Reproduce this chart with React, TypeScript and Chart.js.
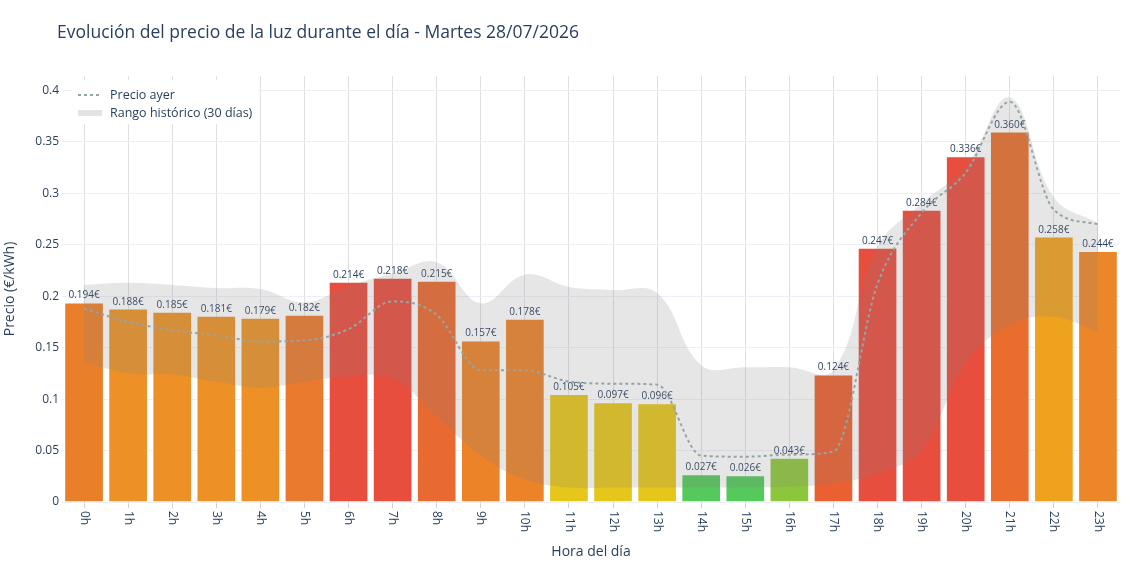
import React, { useEffect, useRef } from "react";
import { Chart, registerables } from "chart.js";

Chart.register(...registerables);

const FONT = "'Open Sans', verdana, arial, sans-serif";
const TEXT = "#2a3f5f";

const horas = [
  "0h", "1h", "2h", "3h", "4h", "5h", "6h", "7h", "8h", "9h", "10h", "11h",
  "12h", "13h", "14h", "15h", "16h", "17h", "18h", "19h", "20h", "21h", "22h", "23h",
];

// Precio de hoy (€/kWh)
const precioHoy = [
  0.194, 0.188, 0.185, 0.181, 0.179, 0.182, 0.214, 0.218, 0.215, 0.157, 0.178, 0.105,
  0.097, 0.096, 0.027, 0.026, 0.043, 0.124, 0.247, 0.284, 0.336, 0.36, 0.258, 0.244,
];

// Precio del día anterior (€/kWh)
const precioAyer = [
  0.188, 0.175, 0.167, 0.162, 0.156, 0.157, 0.168, 0.195, 0.182, 0.128, 0.128, 0.117,
  0.115, 0.114, 0.045, 0.044, 0.046, 0.049, 0.212, 0.281, 0.32, 0.389, 0.284, 0.27,
];

// Rango histórico de los últimos 30 días
const rangoMax = [
  0.211, 0.213, 0.211, 0.208, 0.207, 0.194, 0.21, 0.222, 0.233, 0.193, 0.221, 0.209,
  0.206, 0.203, 0.133, 0.131, 0.131, 0.128, 0.248, 0.29, 0.326, 0.393, 0.296, 0.271,
];
const rangoMin = [
  0.136, 0.125, 0.124, 0.117, 0.111, 0.117, 0.122, 0.12, 0.083, 0.045, 0.022, 0.014,
  0.014, 0.014, 0.014, 0.014, 0.015, 0.018, 0.028, 0.05, 0.135, 0.172, 0.18, 0.165,
];

// Color de cada barra según el nivel de precio
const coloresBarra = [
  "#ea7f2a", "#ed9126", "#ed9126", "#ed9126", "#ed9126", "#ea7a2d", "#e84e3e", "#e84e3e",
  "#e96a30", "#ec8328", "#ec8328", "#e5c61a", "#e5c61a", "#e5c61a", "#55c95a", "#55c95a",
  "#8cc63c", "#ea6030", "#e84e3e", "#e84e3e", "#e84e3e", "#e96e2e", "#efa21e", "#eb8629",
];

const TITULO = "Evolución del precio de la luz durante el día - Martes 28/07/2026";
const TITULO_X = "Hora del día";
const TITULO_Y = "Precio (€/kWh)";
const LEYENDA_AYER = "Precio ayer";
const LEYENDA_RANGO = "Rango histórico (30 días)";

const BAND_FILL = "rgba(128,128,128,0.2)";
const LINE_COLOR = "#95a5a6";

const decoraciones = {
  id: "decoraciones",
  afterDatasetDraw(chart: any, args: any) {
    if (args.meta.type !== "bar") return;
    const ctx = chart.ctx;
    ctx.save();
    ctx.font = `10px ${FONT}`;
    ctx.fillStyle = TEXT;
    ctx.textAlign = "center";
    ctx.textBaseline = "alphabetic";
    args.meta.data.forEach((el: any, i: number) => {
      ctx.fillText(precioHoy[i].toFixed(3) + "€", el.x, el.y - 4);
    });
    ctx.restore();
  },
  afterDraw(chart: any) {
    const ctx = chart.ctx;
    const area = chart.chartArea;
    const xScale = chart.scales.x;
    ctx.save();

    // Título
    ctx.fillStyle = TEXT;
    ctx.font = `17.5px ${FONT}`;
    ctx.textAlign = "left";
    ctx.textBaseline = "middle";
    ctx.fillText(TITULO, 57, 33);

    // Etiquetas del eje X, giradas 90° en sentido horario
    ctx.font = `12px ${FONT}`;
    horas.forEach((h, i) => {
      const x = xScale.getPixelForTick(i);
      ctx.save();
      ctx.translate(x, area.bottom + 9);
      ctx.rotate(Math.PI / 2);
      ctx.textAlign = "left";
      ctx.textBaseline = "middle";
      ctx.fillText(h, 0, 0);
      ctx.restore();
    });

    // Títulos de los ejes
    ctx.font = `14px ${FONT}`;
    ctx.textAlign = "center";
    ctx.textBaseline = "middle";
    ctx.fillText(TITULO_X, (area.left + area.right) / 2, 552);
    ctx.save();
    ctx.translate(10, (area.top + area.bottom) / 2);
    ctx.rotate(-Math.PI / 2);
    ctx.fillText(TITULO_Y, 0, 0);
    ctx.restore();

    // Leyenda dentro del área del gráfico
    const lx = area.left + 10;
    const ly = area.top + 4;
    ctx.fillStyle = "#ffffff";
    ctx.fillRect(lx, ly, 186, 44);

    ctx.strokeStyle = LINE_COLOR;
    ctx.lineWidth = 2;
    ctx.setLineDash([3, 3]);
    ctx.beginPath();
    ctx.moveTo(lx + 6, ly + 15);
    ctx.lineTo(lx + 30, ly + 15);
    ctx.stroke();
    ctx.setLineDash([]);

    ctx.fillStyle = "#e3e3e3";
    ctx.fillRect(lx + 6, ly + 30, 24, 6);

    ctx.fillStyle = TEXT;
    ctx.font = `12.5px ${FONT}`;
    ctx.textAlign = "left";
    ctx.textBaseline = "middle";
    ctx.fillText(LEYENDA_AYER, lx + 38, ly + 15);
    ctx.fillText(LEYENDA_RANGO, lx + 38, ly + 33);

    ctx.restore();
  },
};

export default function App() {
  const canvasRef = useRef<HTMLCanvasElement | null>(null);

  useEffect(() => {
    if (!canvasRef.current) return;
    const chart = new Chart(canvasRef.current, {
      type: "bar",
      data: {
        labels: horas,
        datasets: [
          {
            type: "line",
            label: LEYENDA_AYER,
            data: precioAyer,
            borderColor: LINE_COLOR,
            borderWidth: 2,
            borderDash: [3, 3],
            pointRadius: 0,
            cubicInterpolationMode: "monotone",
            fill: false,
            order: 0,
          } as any,
          {
            type: "line",
            label: "min",
            data: rangoMin,
            borderWidth: 0,
            borderColor: "rgba(0,0,0,0)",
            pointRadius: 0,
            tension: 0.4,
            fill: false,
            order: 1,
          } as any,
          {
            type: "line",
            label: LEYENDA_RANGO,
            data: rangoMax,
            borderWidth: 0,
            borderColor: "rgba(0,0,0,0)",
            backgroundColor: BAND_FILL,
            pointRadius: 0,
            tension: 0.4,
            fill: "-1",
            order: 1,
          } as any,
          {
            type: "bar",
            label: "Precio hoy",
            data: precioHoy,
            backgroundColor: coloresBarra,
            borderColor: "rgba(255,255,255,0.5)",
            borderWidth: 1,
            barPercentage: 0.9,
            categoryPercentage: 1,
            order: 2,
          } as any,
        ],
      },
      options: {
        responsive: true,
        maintainAspectRatio: false,
        animation: false,
        layout: { padding: { left: 0, right: 20, top: 76, bottom: 0 } },
        plugins: {
          legend: { display: false },
          title: { display: false },
          tooltip: { enabled: false },
        },
        scales: {
          x: {
            offset: true,
            grid: {
              offset: false,
              color: "#e1e1e4",
              drawTicks: true,
              tickLength: 6,
              tickColor: "#cfcfd4",
            },
            border: { display: false },
            ticks: { display: false },
            afterFit: (scale: any) => {
              scale.height = 68;
            },
          },
          y: {
            min: 0,
            max: 0.414,
            grid: { color: "#ebf0f8", drawTicks: false, lineWidth: 1 },
            border: { display: false },
            ticks: {
              stepSize: 0.05,
              includeBounds: false,
              padding: 3,
              color: TEXT,
              font: { family: FONT, size: 12 },
              callback: (v: any) => String(Number(Number(v).toFixed(2))),
            },
            afterFit: (scale: any) => {
              scale.width = 62;
            },
          },
        },
      },
      plugins: [decoraciones],
    });
    return () => chart.destroy();
  }, []);

  return (
    <div style={{ position: "fixed", left: 0, top: 0, width: 1140, height: 570, background: "#fff" }}>
      <canvas ref={canvasRef} />
    </div>
  );
}
